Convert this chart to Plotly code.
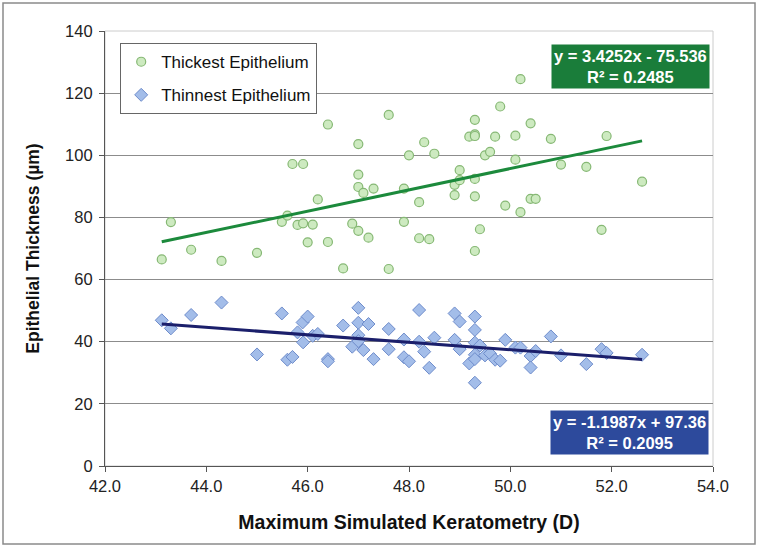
import plotly.graph_objects as go
import numpy as np

# Thickest epithelium (green circles)
thick_x = [43.12, 43.3, 43.7, 44.3, 45.0, 45.49, 45.6, 45.7, 45.8, 45.91, 45.91, 46.0, 46.1, 46.2,
           46.4, 46.4, 46.7, 46.88, 47.0, 47.0, 47.0, 47.0, 47.1, 47.2, 47.3, 47.6, 47.6, 47.9,
           47.9, 48.0, 48.2, 48.2, 48.3, 48.4, 48.5, 48.9, 48.9, 49.0, 49.0, 49.19, 49.3, 49.3,
           49.3, 49.3, 49.3, 49.3, 49.4, 49.5, 49.6, 49.7, 49.8, 49.9, 50.1, 50.1, 50.2, 50.2,
           50.4, 50.4, 50.5, 50.8, 51.0, 51.5, 51.8, 51.9, 52.6]
thick_y = [66.5, 78.5, 69.6, 66.0, 68.6, 78.6, 80.6, 97.2, 77.6, 97.2, 78.1, 72.0, 77.7, 85.8,
           109.9, 72.1, 63.6, 78.0, 103.6, 93.8, 89.8, 75.7, 87.9, 73.5, 89.3, 113.0, 63.4, 89.3,
           78.6, 100.0, 84.9, 73.3, 104.2, 73.0, 100.5, 90.5, 87.2, 95.2, 92.0, 106.0, 111.4, 106.7,
           106.2, 92.4, 86.8, 69.2, 76.2, 100.0, 101.1, 106.0, 115.7, 83.8, 106.3, 98.6, 124.5, 81.7,
           110.3, 86.0, 86.0, 105.3, 97.0, 96.3, 76.0, 106.2, 91.5]

# Thinnest epithelium (blue diamonds)
thin_x = [43.12, 43.3, 43.7, 44.3, 45.0, 45.49, 45.6, 45.7, 45.8, 45.9, 45.91, 46.0, 46.1, 46.2,
          46.4, 46.4, 46.7, 46.88, 47.0, 47.0, 47.0, 47.0, 47.1, 47.2, 47.3, 47.6, 47.6, 47.9,
          47.9, 48.0, 48.2, 48.2, 48.3, 48.4, 48.5, 48.9, 48.9, 49.0, 49.0, 49.19, 49.3, 49.3,
          49.3, 49.3, 49.3, 49.3, 49.4, 49.5, 49.6, 49.7, 49.8, 49.9, 50.1, 50.2, 50.4, 50.4,
          50.5, 50.8, 51.0, 51.5, 51.8, 51.9, 52.6]
thin_y = [46.9, 44.3, 48.6, 52.6, 35.9, 49.1, 34.2, 35.1, 43.0, 46.2, 39.8, 48.1, 41.9, 42.5,
          34.4, 33.7, 45.2, 38.4, 50.9, 46.1, 42.1, 40.2, 37.3, 45.7, 34.4, 44.1, 37.6, 40.7,
          35.0, 33.7, 50.2, 40.0, 36.8, 31.6, 41.3, 49.1, 40.6, 46.5, 37.6, 33.0, 26.8, 48.1,
          43.8, 39.7, 35.8, 34.4, 38.8, 35.6, 36.2, 34.2, 33.9, 40.6, 38.1, 38.1, 35.4, 31.7,
          37.0, 41.7, 35.6, 32.8, 37.6, 36.4, 35.8]

# Trendline coefficients shown on the chart
thick_slope, thick_icpt, thick_r2 = 3.4252, -75.536, 0.2485
thin_slope, thin_icpt, thin_r2 = -1.1987, 97.36, 0.2095

x_ticks = [42, 44, 46, 48, 50, 52, 54]
y_ticks = [0, 20, 40, 60, 80, 100, 120, 140]

FONT = "Liberation Sans, Arial, sans-serif"

fig = go.Figure()

fig.add_trace(go.Scatter(
    x=thick_x, y=thick_y, mode="markers", name="Thickest Epithelium",
    legendgroup="a",
    marker=dict(symbol="circle", size=9, color="#cdeac0",
                line=dict(color="#86b874", width=1.2))))
fig.add_trace(go.Scatter(
    x=thin_x, y=thin_y, mode="markers", name="Thinnest Epithelium",
    legendgroup="b",
    marker=dict(symbol="diamond", size=10, color="#a3bde9",
                line=dict(color="#6e8ccb", width=1))))

tx = np.array([min(thick_x), max(thick_x)])
fig.add_trace(go.Scatter(x=tx, y=thick_slope * tx + thick_icpt, mode="lines",
                         line=dict(color="#1c8a3c", width=3), showlegend=False,
                         hoverinfo="skip"))
bx = np.array([min(thin_x), max(thin_x)])
fig.add_trace(go.Scatter(x=bx, y=thin_slope * bx + thin_icpt, mode="lines",
                         line=dict(color="#1b1f6b", width=3), showlegend=False,
                         hoverinfo="skip"))

fig.add_annotation(
    xref="paper", yref="paper", x=0.995, y=0.97, xanchor="right", yanchor="top",
    text=f"<b>y = {thick_slope}x - {abs(thick_icpt)}</b><br><b>R² = {thick_r2}</b>",
    showarrow=False, align="center", bgcolor="#1a7d3a", borderpad=2,
    font=dict(family=FONT, size=16.5, color="white"))
fig.add_annotation(
    xref="paper", yref="paper", x=0.993, y=0.025, xanchor="right", yanchor="bottom",
    text=f"<b>y = {thin_slope}x + {thin_icpt}</b><br><b>R² = {thin_r2}</b>",
    showarrow=False, align="center", bgcolor="#2d4a9c", borderpad=2,
    font=dict(family=FONT, size=16.5, color="white"))

# outer frame around whole picture
L, R, T, B = 105, 45, 31, 81
W, H = 758, 547
pw, ph = W - L - R, H - T - B
fig.add_shape(type="rect", xref="paper", yref="paper",
              x0=(3 - L) / pw, x1=(W - 3 - L) / pw,
              y0=-(B - 3) / ph, y1=(H - 3 - B) / ph,
              line=dict(color="#8a8a8a", width=1.5), layer="below")

fig.update_layout(
    width=W, height=H,
    margin=dict(l=L, r=R, t=T, b=B, autoexpand=False),
    paper_bgcolor="white", plot_bgcolor="white",
    font=dict(family=FONT, size=16.5, color="#222222"),
    showlegend=True,
    legend=dict(x=0.025, y=0.972, xanchor="left", yanchor="top",
                bgcolor="white", bordercolor="#666666", borderwidth=1,
                traceorder="grouped", tracegroupgap=8,
                font=dict(family=FONT, size=17, color="#111111"),
                itemwidth=30),
    xaxis=dict(range=[42, 54], tickvals=x_ticks, tickformat=".1f", automargin=False,
               showgrid=False, zeroline=False, showline=True, linecolor="#555555",
               linewidth=1.2, ticks="outside", ticklen=5, tickcolor="#555555",
               mirror=False,
               title=dict(text="<b>Maximum Simulated Keratometry (D)</b>",
                          font=dict(family=FONT, size=19.5, color="#111111"), standoff=21)),
    yaxis=dict(range=[0, 140], tickvals=y_ticks, automargin=False,
               showgrid=True, gridcolor="#8c8c8c", gridwidth=1.2, zeroline=False,
               showline=True, linecolor="#555555", linewidth=1.2,
               ticks="outside", ticklen=5, tickcolor="#555555", ticklabelstandoff=3,
               title=dict(text="<b>Epithelial Thickness (µm)</b>",
                          font=dict(family=FONT, size=17.5, color="#111111"), standoff=20)),
)

# light frame on top/right of plot area
fig.add_shape(type="rect", xref="paper", yref="paper", x0=0, x1=1, y0=0, y1=1,
              line=dict(color="#cccccc", width=1), layer="below")

fig.write_html("out.html", config={"displayModeBar": False},
               post_script="document.body.style.margin='0';document.body.style.overflow='hidden';")
